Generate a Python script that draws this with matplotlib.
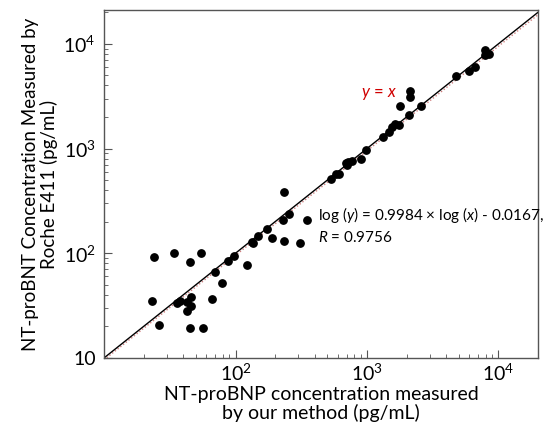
import numpy as np
import matplotlib.pyplot as plt
from matplotlib.ticker import FixedLocator, LogLocator, NullFormatter

plt.rcParams['font.family'] = ['Lato', 'DejaVu Sans']
plt.rcParams['mathtext.fontset'] = 'custom'
plt.rcParams['mathtext.rm'] = 'Lato'
plt.rcParams['mathtext.it'] = 'Lato:italic'

# our method (x) vs Roche E411 (y), pg/mL
x_ours = [234, 531, 580, 614, 701, 722, 765, 690, 901, 978, 1315, 1459, 1555, 1630,
          1758, 1788, 2104, 2127, 2127, 2595, 4721, 5927, 6610, 7925, 7834, 8450,
          254, 228, 349, 173, 147, 134, 137, 190, 234, 309, 97, 88, 123, 70, 79, 66,
          24, 34, 54.6, 45, 23, 26, 35.7, 37.9, 43, 45.8, 46, 43, 44.9, 56.5]
y_roche = [386, 515, 575, 575, 692, 745, 767, 720, 801, 971, 1276, 1436, 1616, 1713,
           1690, 2518, 2108, 3113, 3506, 2570, 4965, 5546, 6012, 8750, 7834, 7900,
           236, 209, 206, 170, 146, 128, 124, 141, 130, 124, 94, 84, 78, 66, 52, 36.4,
           91.5, 101, 101, 82.6, 35.3, 20.5, 33.3, 35.3, 34.3, 38, 31, 28.3, 19.4, 19.4]

slope = 0.9984
intercept = -0.0167
r_value = 0.9756

fig = plt.figure(figsize=(5.46, 4.36), dpi=100)
ax = fig.add_axes([0.1905, 0.179, 0.795, 0.798])

lim = np.array([10, 2e4])
ax.plot(lim, lim, color='black', lw=1.0, zorder=2)
ax.plot(lim, 10 ** (slope * np.log10(lim) + intercept), color='#d08080', lw=1.0,
        ls=(0, (1, 1.5)), zorder=1)
ax.scatter(x_ours, y_roche, s=28, color='black', zorder=3)

ax.set_xscale('log')
ax.set_yscale('log')
ax.set_xlim(10, 2e4)
ax.set_ylim(10, 2.1e4)

ax.xaxis.set_major_locator(FixedLocator([1e2, 1e3, 1e4]))
ax.set_xticklabels(['$10^2$', '$10^3$', '$10^4$'])
ax.yaxis.set_major_locator(FixedLocator([10, 1e2, 1e3, 1e4]))
ax.set_yticklabels(['10', '$10^2$', '$10^3$', '$10^4$'])
for a in (ax.xaxis, ax.yaxis):
    a.set_minor_locator(LogLocator(base=10, subs=np.arange(2, 10)))
    a.set_minor_formatter(NullFormatter())
ax.tick_params(which='both', direction='in', top=False, right=False,
               color='#555555', labelsize=14)
ax.tick_params(axis='x', pad=3)
ax.tick_params(axis='y', pad=6)
ax.tick_params(which='major', length=6, width=0.8)
ax.tick_params(which='minor', length=3, width=0.6)
for s in ax.spines.values():
    s.set_color('#555555')
    s.set_linewidth(1.0)

fig.text(361 / 546, 1 - 94 / 436, '$y$ = $x$', color='#d00000', fontsize=12,
         va='center')
fig.text(318 / 546, 1 - 205 / 436,
         'log ($y$) = 0.9984 × log ($x$) - 0.0167,\n$R$ = 0.9756',
         fontsize=11, linespacing=1.45, va='top')

ax.set_xlabel('NT-proBNP concentration measured\nby our method (pg/mL)', fontsize=14,
              linespacing=1.05, labelpad=2)
ax.set_ylabel('NT-proBNT Concentration Measured by\nRoche E411 (pg/mL)', fontsize=13.5,
              linespacing=1.05, labelpad=4)

fig.savefig('out.png', dpi=100)
